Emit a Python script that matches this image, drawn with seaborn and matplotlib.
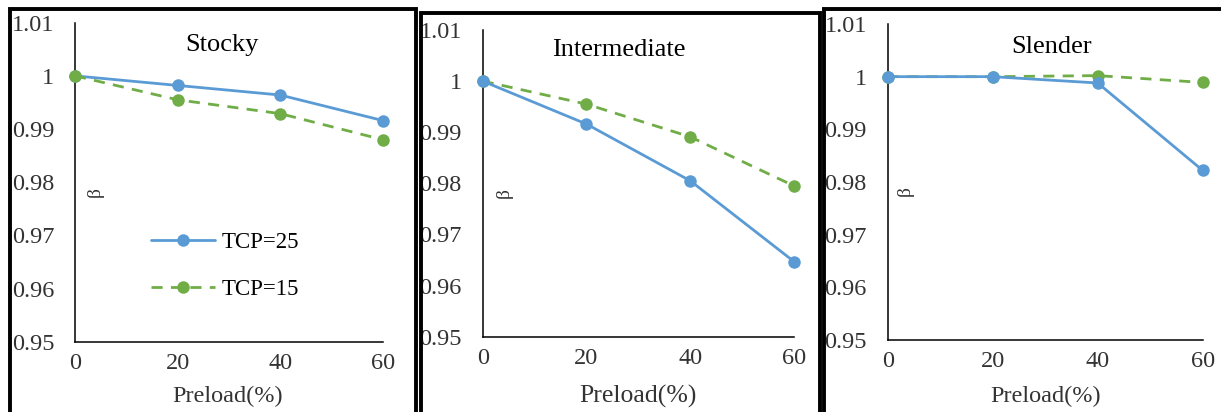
import numpy as np
import pandas as pd
import seaborn as sns
import matplotlib
matplotlib.use("Agg")
import matplotlib.pyplot as plt
from matplotlib.patches import Rectangle

# ---- data ----
preload = [0, 20, 40, 60]
panels = ["Stocky", "Intermediate", "Slender"]
stocky_tcp25 = [1.0, 0.9982, 0.9964, 0.9916]
stocky_tcp15 = [1.0, 0.9955, 0.9929, 0.9880]
inter_tcp25 = [1.0, 0.9916, 0.9805, 0.9647]
inter_tcp15 = [1.0, 0.9955, 0.9891, 0.9795]
slender_tcp25 = [1.0, 1.0, 0.9988, 0.9822]
slender_tcp15 = [1.0, 1.0, 1.0002, 0.9989]
series_names = ["TCP=25", "TCP=15"]
yticks = [0.95, 0.96, 0.97, 0.98, 0.99, 1.0, 1.01]
ytick_labels = ["0.95", "0.96", "0.97", "0.98", "0.99", "1", "1.01"]
xticks = [0, 20, 40, 60]

sns.set_theme(style="white")
plt.rcParams["font.family"] = ["Liberation Serif", "DejaVu Serif"]

W, H = 1221, 412
fig = plt.figure(figsize=(W / 100, H / 100), dpi=100)
fig.patch.set_facecolor("white")

# axes rectangles in pixels: (left, right, top(1.01), bottom(0.95))
ax_px = [(75, 382.7, 22.7, 341.7), (482.7, 794, 30, 336.7), (887.7, 1202.7, 24, 340)]
title_pos = [(0.477, 0.93), (0.438, 0.935), (0.52, 0.926)]
beta_x = [0.065, 0.07, 0.055]
xlabel_x = [228, 638, 1046]
fs_tick = [17.5, 17.5, 17.5]
fs_xlabel = [17.5, 18.5, 17.5]
fs_title = [19, 19, 19]

all_data = [(stocky_tcp25, stocky_tcp15), (inter_tcp25, inter_tcp15), (slender_tcp25, slender_tcp15)]
blue = "#5B9BD5"
green = "#70AD47"

for i, name in enumerate(panels):
    l, r, t, b = ax_px[i]
    ax = fig.add_axes([l / W, (H - b) / H, (r - l) / W, (b - t) / H])
    ax.set_facecolor("white")
    s25, s15 = all_data[i]
    df = pd.DataFrame({
        "Preload": preload * 2,
        "beta": list(s25) + list(s15),
        "series": [series_names[0]] * 4 + [series_names[1]] * 4,
    })
    order = series_names if i == 0 else series_names[::-1]
    sns.lineplot(data=df, x="Preload", y="beta", hue="series", style="series",
                 hue_order=order, style_order=order,
                 palette={"TCP=25": blue, "TCP=15": green},
                 dashes={"TCP=25": "", "TCP=15": (4, 3)},
                 markers={"TCP=25": "o", "TCP=15": "o"},
                 markersize=9, markeredgewidth=0, linewidth=2.0,
                 ax=ax, legend=(i == 0), clip_on=False, zorder=3)
    ax.set_xlim(0, 60)
    ax.set_ylim(0.95, 1.01)
    ax.set_xticks(xticks)
    ax.set_xticklabels([str(x) for x in xticks])
    ax.set_yticks(yticks)
    ax.set_yticklabels(ytick_labels)
    for sp in ["top", "right"]:
        ax.spines[sp].set_visible(False)
    for sp in ["left", "bottom"]:
        ax.spines[sp].set_color("black")
        ax.spines[sp].set_linewidth(1.1)
    ax.tick_params(axis="both", direction="in", length=6, width=1.1, color="black",
                   labelsize=fs_tick[i], labelcolor="#333333")
    ax.tick_params(axis="y", pad=15)
    ax.tick_params(axis="x", pad=8)
    ax.set_xlabel("")
    ax.set_ylabel("")
    ax.text(title_pos[i][0], title_pos[i][1], name, transform=ax.transAxes,
            ha="center", va="center", fontsize=fs_title[i], color="black")
    ax.text(beta_x[i], 0.47, "β", transform=ax.transAxes, rotation=90,
            ha="center", va="center", fontsize=14, color="#333333")
    fig.text(xlabel_x[i] / W, (H - 396) / H, "Preload(%)", ha="center", va="center",
             fontsize=fs_xlabel[i], color="#333333")
    if i == 0:
        leg = ax.legend(loc="lower left", bbox_to_anchor=(0.18, 0.065), frameon=False,
                        fontsize=16.5, handlelength=2.8, labelspacing=1.15,
                        handletextpad=0.3)
        for txt in leg.get_texts():
            txt.set_color("black")
        for h in leg.legend_handles:
            h.set_markersize(9)

# panel borders
boxes = [(10, 415.5, 9.5), (421, 819.5, 13), (824, 1230, 9.5)]
for (bl, br, bt) in boxes:
    rect = Rectangle((bl / W, -0.1), (br - bl) / W, (H - bt) / H + 0.1,
                     transform=fig.transFigure, fill=False, edgecolor="black",
                     linewidth=2.8, clip_on=False)
    fig.add_artist(rect)

fig.savefig("out.png", dpi=100, facecolor="white")
